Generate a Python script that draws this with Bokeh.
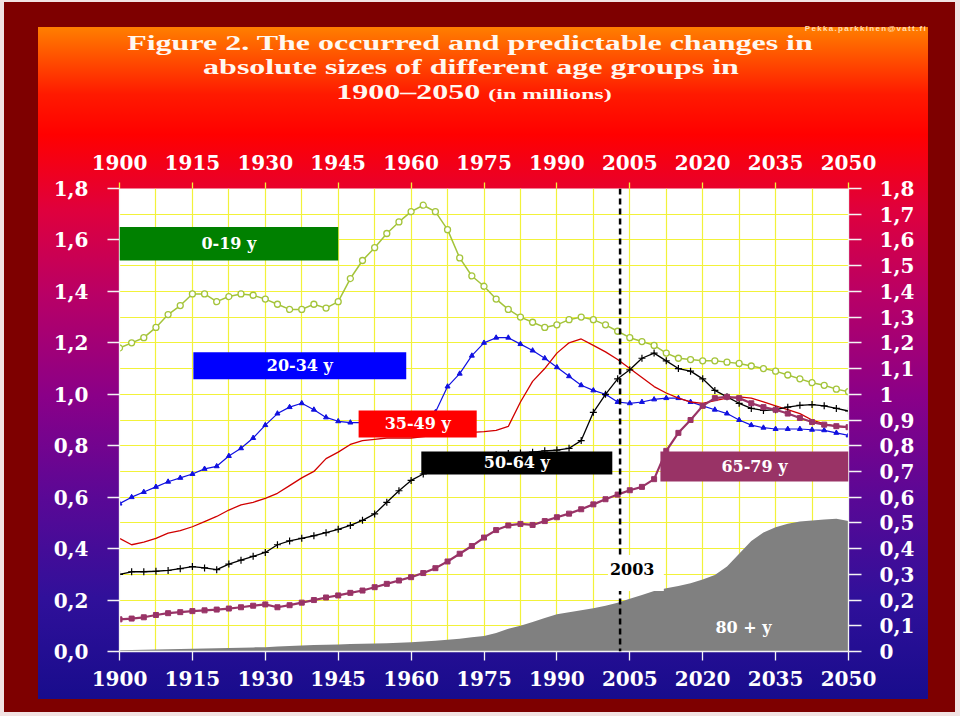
from bokeh.plotting import figure
from bokeh.layouts import column
from bokeh.models import (Range1d, LinearAxis, FixedTicker, Span, Label,
                          BoxAnnotation, ColumnDataSource, Div)
from bokeh.embed import file_html
from bokeh.resources import INLINE

# ---------------- data (millions) ----------------
YEARS = [1900 + 2.5 * i for i in range(61)]

AGE_0_19 = [1.18, 1.20, 1.22, 1.26, 1.31, 1.345, 1.39, 1.39, 1.36, 1.38, 1.39, 1.385,
            1.37, 1.35, 1.33, 1.33, 1.35, 1.335, 1.36, 1.45, 1.52, 1.57, 1.625, 1.67,
            1.71, 1.735, 1.71, 1.64, 1.53, 1.46, 1.42, 1.37, 1.33, 1.30, 1.28, 1.26,
            1.27, 1.29, 1.30, 1.29, 1.27, 1.245, 1.22, 1.205, 1.19, 1.16, 1.14, 1.135,
            1.13, 1.13, 1.125, 1.12, 1.11, 1.10, 1.09, 1.075, 1.06, 1.045, 1.035, 1.02, 1.01]

AGE_20_34 = [0.575, 0.60, 0.62, 0.64, 0.66, 0.675, 0.69, 0.71, 0.72, 0.76, 0.79, 0.83,
             0.88, 0.925, 0.95, 0.965, 0.94, 0.91, 0.895, 0.89, 0.89, 0.89, 0.89, 0.89,
             0.895, 0.905, 0.93, 1.03, 1.08, 1.15, 1.20, 1.22, 1.22, 1.195, 1.17, 1.14,
             1.105, 1.07, 1.035, 1.015, 1.00, 0.97, 0.965, 0.97, 0.98, 0.985, 0.985, 0.97,
             0.955, 0.94, 0.925, 0.90, 0.88, 0.87, 0.865, 0.865, 0.865, 0.862, 0.86, 0.85, 0.84]

AGE_35_49 = [0.44, 0.415, 0.425, 0.44, 0.46, 0.47, 0.485, 0.505, 0.525, 0.55, 0.57, 0.58,
             0.595, 0.615, 0.645, 0.675, 0.70, 0.75, 0.775, 0.805, 0.82, 0.825, 0.83, 0.83,
             0.83, 0.835, 0.84, 0.845, 0.85, 0.852, 0.855, 0.86, 0.875, 0.97, 1.05, 1.10,
             1.16, 1.20, 1.215, 1.19, 1.165, 1.135, 1.10, 1.065, 1.03, 1.005, 0.985, 0.97,
             0.965, 0.975, 0.985, 0.99, 0.985, 0.97, 0.955, 0.94, 0.925, 0.90, 0.885, 0.875, 0.87]

AGE_50_64 = [0.30, 0.31, 0.31, 0.312, 0.315, 0.322, 0.33, 0.325, 0.318, 0.34, 0.355, 0.37,
             0.385, 0.415, 0.43, 0.44, 0.45, 0.462, 0.475, 0.49, 0.51, 0.535, 0.58, 0.625,
             0.665, 0.69, 0.71, 0.73, 0.745, 0.755, 0.76, 0.765, 0.77, 0.772, 0.775, 0.78,
             0.783, 0.79, 0.82, 0.93, 1.00, 1.06, 1.095, 1.14, 1.16, 1.13, 1.10, 1.09,
             1.06, 1.015, 0.99, 0.965, 0.945, 0.937, 0.94, 0.95, 0.957, 0.96, 0.955, 0.945, 0.935]

AGE_65_79 = [0.125, 0.128, 0.133, 0.142, 0.149, 0.153, 0.157, 0.16, 0.163, 0.167, 0.172, 0.178,
             0.183, 0.172, 0.18, 0.19, 0.20, 0.21, 0.218, 0.228, 0.237, 0.25, 0.263, 0.276,
             0.289, 0.305, 0.324, 0.35, 0.38, 0.41, 0.443, 0.472, 0.49, 0.496, 0.492, 0.507,
             0.522, 0.536, 0.553, 0.572, 0.592, 0.61, 0.627, 0.64, 0.67, 0.78, 0.85, 0.90,
             0.955, 0.985, 0.99, 0.985, 0.965, 0.95, 0.94, 0.925, 0.908, 0.892, 0.882, 0.876, 0.872]

AGE_80_PLUS = [0.005, 0.006, 0.007, 0.008, 0.009, 0.010, 0.011, 0.012, 0.013, 0.014, 0.015, 0.016,
               0.017, 0.019, 0.021, 0.023, 0.025, 0.026, 0.027, 0.029, 0.030, 0.031, 0.032, 0.034,
               0.036, 0.039, 0.042, 0.046, 0.050, 0.055, 0.060, 0.072, 0.088, 0.100, 0.115, 0.130,
               0.145, 0.153, 0.160, 0.168, 0.178, 0.190, 0.205, 0.220, 0.235, 0.246, 0.255, 0.265,
               0.280, 0.297, 0.330, 0.380, 0.430, 0.463, 0.483, 0.497, 0.505, 0.509, 0.513, 0.516, 0.507]

X_TICKS = [1900, 1915, 1930, 1945, 1960, 1975, 1990, 2005, 2020, 2035, 2050]
X_GRID = [1900 + 7.5 * i for i in range(21)]
LEFT_TICKS = [0.0, 0.2, 0.4, 0.6, 0.8, 1.0, 1.2, 1.4, 1.6, 1.8]
LEFT_LABELS = ["0,0", "0,2", "0,4", "0,6", "0,8", "1,0", "1,2", "1,4", "1,6", "1,8"]
RIGHT_TICKS = [0.0, 0.1, 0.2, 0.3, 0.4, 0.5, 0.6, 0.7, 0.8, 0.9, 1.0,
               1.1, 1.2, 1.3, 1.4, 1.5, 1.6, 1.7, 1.8]
RIGHT_LABELS = ["0", "0,1", "0,2", "0,3", "0,4", "0,5", "0,6", "0,7", "0,8", "0,9", "1",
                "1,1", "1,2", "1,3", "1,4", "1,5", "1,6", "1,7", "1,8"]

FORECAST_START = 2003

# series label boxes (data units)
BOX_TEXT = ["0-19 y", "20-34 y", "35-49 y", "50-64 y", "65-79 y"]
BOX_FILL = ["#008000", "#0000ff", "#ff0000", "#000000", "#993366"]
BOX_LEFT = [1900.0, 1915.2, 1949.2, 1962.1, 2011.3]
BOX_RIGHT = [1945.0, 1959.0, 1973.5, 2001.4, 2050.0]
BOX_BOTTOM = [1.52, 1.058, 0.832, 0.688, 0.661]
BOX_TOP = [1.65, 1.163, 0.937, 0.778, 0.778]

SERIF = "DejaVu Serif"
HEADER_H = 120

# ---------------- header (title) ----------------
line_css = ("position:absolute;left:0;white-space:nowrap;text-align:center;"
            "font-size:20px;line-height:20px;transform-origin:{o}px 0;"
            "transform:scaleX(1.6);width:{w}px;top:{t}px;")
header_html = (
    '<div style="position:relative;width:960px;height:120px;color:#fff8f0;'
    "font-family:'Liberation Serif',serif;font-weight:bold;\">"
    '<div style="position:absolute;left:0;top:25px;width:927px;text-align:right;'
    "font-family:'Liberation Sans',sans-serif;font-size:8px;line-height:8px;"
    'letter-spacing:1.3px;color:#ffdcb4;">Pekka.parkkinen@vatt.fi</div>'
    f'<div style="{line_css.format(o=470, w=940, t=33)}">'
    'Figure 2. The occurred and predictable changes in</div>'
    f'<div style="{line_css.format(o=471, w=942, t=57)}">'
    'absolute sizes of different age groups in</div>'
    f'<div style="{line_css.format(o=474, w=948, t=82)}">'
    '1900\u20132050 <span style="font-size:15px;">(in millions)</span></div>'
    '</div>'
)
header = Div(text=header_html, width=960, height=HEADER_H, margin=(0, 0, 0, 0))

# ---------------- figure ----------------
p = figure(width=960, height=716 - HEADER_H, output_backend="svg", toolbar_location=None,
           x_range=Range1d(1900, 2050), y_range=Range1d(0, 1.8),
           min_border_left=119, min_border_right=112, min_border_top=188 - HEADER_H,
           min_border_bottom=65, margin=(0, 0, 0, 0))
p.border_fill_color = None
p.background_fill_color = "white"
p.outline_line_color = None

# grids
p.xgrid.ticker = FixedTicker(ticks=X_GRID)
p.ygrid.ticker = FixedTicker(ticks=RIGHT_TICKS)
for g in (p.xgrid, p.ygrid):
    g.grid_line_color = "#f2f23a"
    g.grid_line_width = 1.2

def style_axis(ax, ticks, size, standoff, tick_out, labels=None):
    ax.ticker = FixedTicker(ticks=ticks)
    ax.minor_tick_line_color = None
    ax.major_tick_in = 0
    ax.major_tick_out = tick_out
    ax.major_tick_line_color = "#f4f4f4"
    ax.major_tick_line_width = 1.3
    ax.axis_line_color = "#f4f4f4"
    ax.axis_line_width = 1.3
    ax.major_label_text_color = "white"
    ax.major_label_text_font = SERIF
    ax.major_label_text_font_style = "bold"
    ax.major_label_text_font_size = size
    ax.major_label_standoff = standoff
    if labels is not None:
        ax.major_label_overrides = dict(zip(ticks, labels))

style_axis(p.xaxis[0], X_TICKS, "20px", 10, 9)
style_axis(p.yaxis[0], LEFT_TICKS, "20px", 19, 12, LEFT_LABELS)

top_axis = LinearAxis()
style_axis(top_axis, X_TICKS, "20px", 13, 6)
top_axis.axis_line_color = None
top_axis.major_tick_line_color = "#f2f23a"
p.add_layout(top_axis, "above")

right_axis = LinearAxis()
style_axis(right_axis, RIGHT_TICKS, "20px", 18, 13, RIGHT_LABELS)
p.add_layout(right_axis, "right")

# ---------------- data glyphs ----------------
src = ColumnDataSource(dict(year=YEARS, a0=AGE_0_19, a20=AGE_20_34, a35=AGE_35_49,
                            a50=AGE_50_64, a65=AGE_65_79, a80=AGE_80_PLUS))

p.varea(x="year", y1=0, y2="a80", source=src, fill_color="#808080")

p.line("year", "a0", source=src, line_color="#a4c43a", line_width=1.5)
p.scatter("year", "a0", source=src, marker="circle", size=6, fill_color="white",
          line_color="#a4c43a", line_width=1.3)

p.line("year", "a20", source=src, line_color="#1010e0", line_width=1.2)
p.scatter("year", "a20", source=src, marker="triangle", size=5, fill_color="#1010e0",
          line_color="#1010e0")

p.line("year", "a35", source=src, line_color="#d00000", line_width=1.3)

p.line("year", "a50", source=src, line_color="black", line_width=1.3)
p.scatter("year", "a50", source=src, marker="cross", size=7, line_color="black",
          line_width=1.2)

p.line("year", "a65", source=src, line_color="#993366", line_width=2.2)
p.scatter("year", "a65", source=src, marker="square", size=5, fill_color="#993366",
          line_color="#993366")

# forecast marker
p.add_layout(Span(location=FORECAST_START, dimension="height", line_color="black",
                  line_width=2.5, line_dash="6 4"))

# label boxes
for t, c, l, r, b, tp in zip(BOX_TEXT, BOX_FILL, BOX_LEFT, BOX_RIGHT, BOX_BOTTOM, BOX_TOP):
    p.add_layout(BoxAnnotation(left=l, right=r, bottom=b, top=tp, fill_color=c,
                               fill_alpha=1, line_color=None))
    p.add_layout(Label(x=(l + r) / 2, y=(b + tp) / 2, text=t, text_align="center",
                       text_baseline="middle", text_color="white", text_font=SERIF,
                       text_font_style="bold", text_font_size="16px"))

p.add_layout(BoxAnnotation(left=2000.5, right=2012.0, bottom=0.235, top=0.375,
                           fill_color="white", fill_alpha=1, line_color=None))
p.add_layout(Label(x=2005.5, y=0.322, text="2003", text_align="center",
                   text_baseline="middle", text_color="black", text_font=SERIF,
                   text_font_style="bold", text_font_size="16px"))
p.add_layout(Label(x=2028.4, y=0.093, text="80 + y", text_align="center",
                   text_baseline="middle", text_color="white", text_font=SERIF,
                   text_font_style="bold", text_font_size="16px"))

# ---------------- page ----------------
page = column(header, p, spacing=0)
page.styles = {
    "background": ("linear-gradient(to bottom, #ff7f00 0%, #ff1a00 10%, #ff0000 16%, "
                   "#e0003c 27%, #b80066 40%, #8a0088 55%, #5a0896 70%, #30109a 85%, "
                   "#180c8c 100%) 38px 27px / 890px 672px no-repeat, "
                   "linear-gradient(#7e0000, #7e0000) 4px 2px / 951px 710px no-repeat, #f1e3e3"),
}

open("out.html", "w").write(file_html(page, INLINE))
